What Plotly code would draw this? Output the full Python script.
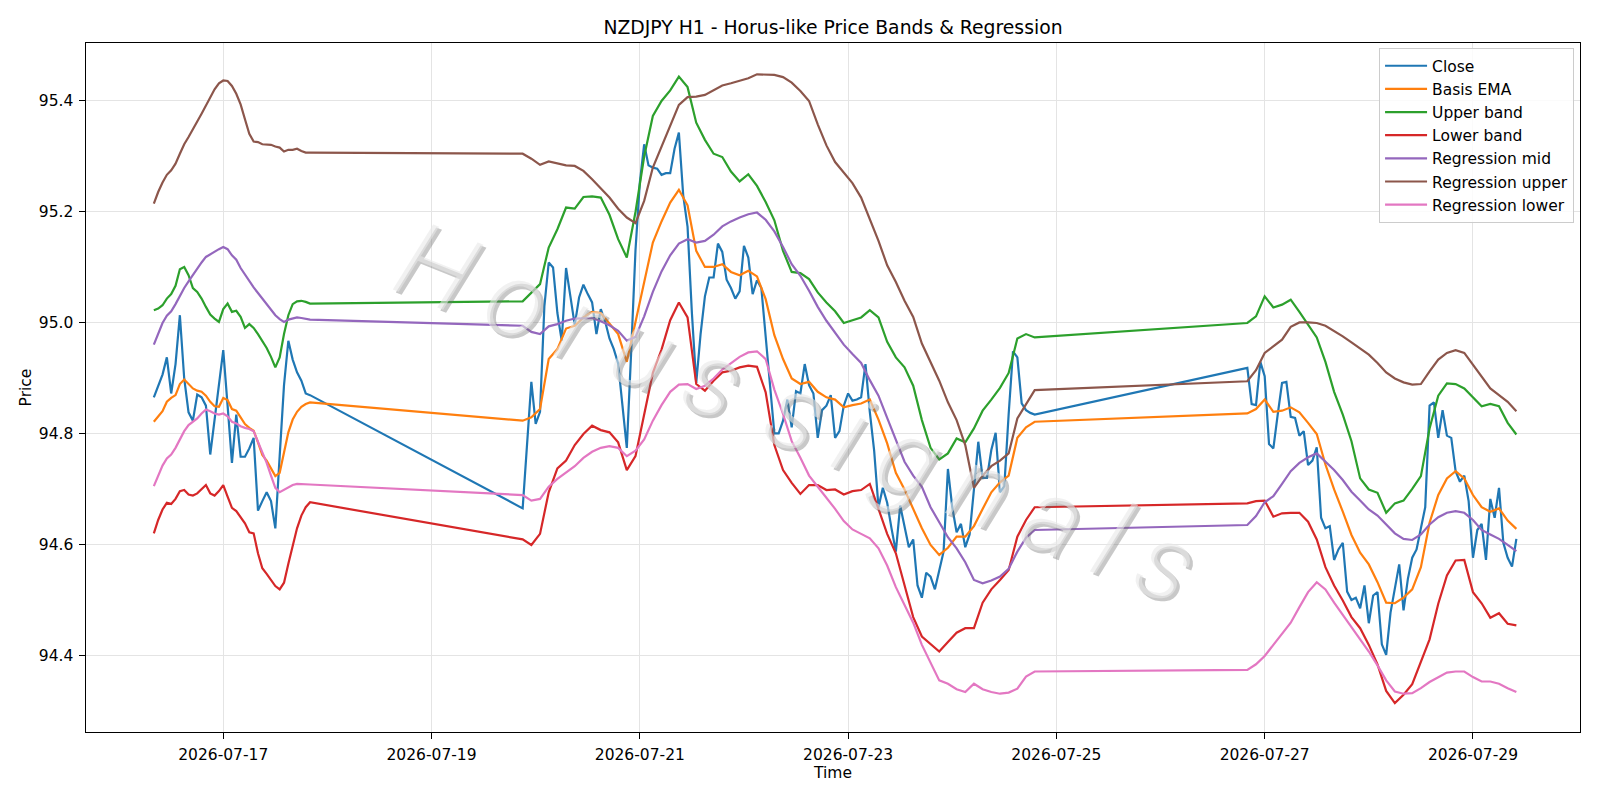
import pandas as pd
import plotly.graph_objects as go

# ---------------- time index (hourly, weekend gaps) ----------------
seg1 = pd.date_range("2026-07-16 08:00", "2026-07-17 20:00", freq="h")
seg2 = pd.date_range("2026-07-19 21:00", "2026-07-24 19:00", freq="h")
seg3 = pd.date_range("2026-07-26 20:00", "2026-07-29 10:00", freq="h")
close_time = seg1.append(seg2).append(seg3)
band_time = seg1.append(seg2[::2]).append(seg3[::2])

# ---------------- Close ----------------
close_1 = [94.866, 94.885, 94.907, 94.938, 94.873, 94.926, 95.014, 94.900, 94.839, 94.824,
           94.871, 94.866, 94.851, 94.763, 94.828, 94.890, 94.951, 94.851, 94.748, 94.835,
           94.759, 94.759, 94.774, 94.793, 94.662, 94.679, 94.695, 94.679, 94.630, 94.760,
           94.888, 94.968, 94.934, 94.911, 94.896, 94.873, 94.870]
close_2 = [94.666, 94.790, 94.894, 94.818, 94.840, 95.030, 95.109, 95.100, 95.018, 94.968,
           95.099, 95.048, 94.996, 95.046, 95.069, 95.052, 95.037, 94.980, 95.025, 95.003,
           94.972, 94.953, 94.927, 94.851, 94.775, 94.947, 95.131, 95.253, 95.322, 95.284,
           95.280, 95.278, 95.267, 95.270, 95.270, 95.314, 95.343, 95.230, 95.173, 95.018,
           94.892, 94.980, 95.048, 95.082, 95.082, 95.143, 95.128, 95.078, 95.063, 95.044,
           95.057, 95.139, 95.118, 95.052, 95.077, 95.063, 94.972, 94.881, 94.801, 94.801,
           94.824, 94.862, 94.812, 94.877, 94.873, 94.926, 94.888, 94.873, 94.793, 94.843,
           94.851, 94.870, 94.793, 94.805, 94.851, 94.873, 94.860, 94.862, 94.866, 94.926,
           94.840, 94.770, 94.668, 94.703, 94.676, 94.630, 94.588, 94.671, 94.630, 94.596,
           94.610, 94.527, 94.505, 94.550, 94.543, 94.520, 94.554, 94.588, 94.737, 94.668,
           94.623, 94.638, 94.596, 94.619, 94.700, 94.786, 94.721, 94.721, 94.771, 94.802,
           94.695, 94.706, 94.836, 94.949, 94.938, 94.855, 94.843, 94.838, 94.835]
close_3 = [94.919, 94.854, 94.852, 94.930, 94.904, 94.782, 94.774, 94.835, 94.892, 94.894,
           94.831, 94.829, 94.797, 94.805, 94.744, 94.752, 94.776, 94.649, 94.630, 94.634,
           94.573, 94.592, 94.604, 94.516, 94.501, 94.505, 94.486, 94.527, 94.459, 94.509,
           94.515, 94.421, 94.402, 94.478, 94.520, 94.565, 94.482, 94.539, 94.577, 94.592,
           94.630, 94.668, 94.851, 94.857, 94.793, 94.843, 94.797, 94.793, 94.733, 94.714,
           94.725, 94.679, 94.577, 94.627, 94.638, 94.573, 94.683, 94.649, 94.703, 94.604,
           94.577, 94.561, 94.611]

# ---------------- Basis EMA ----------------
basis_1 = [94.822, 94.832, 94.841, 94.858, 94.865, 94.870, 94.890, 94.898, 94.890, 94.882,
           94.878, 94.876, 94.869, 94.858, 94.850, 94.849, 94.865, 94.861, 94.845, 94.842,
           94.830, 94.818, 94.811, 94.806, 94.785, 94.762, 94.752, 94.737, 94.724, 94.730,
           94.765, 94.803, 94.826, 94.840, 94.849, 94.854, 94.857]
basis_2 = [94.824, 94.830, 94.845, 94.935, 94.953, 94.990, 94.995, 95.010, 95.020, 95.018,
           95.000, 94.980, 94.930, 95.000, 95.070, 95.145, 95.183, 95.217, 95.240, 95.212,
           95.130, 95.101, 95.101, 95.106, 95.092, 95.086, 95.094, 95.084, 95.043, 94.978,
           94.935, 94.900, 94.890, 94.894, 94.876, 94.866, 94.862, 94.848, 94.852, 94.855,
           94.862, 94.826, 94.783, 94.730, 94.700, 94.665, 94.630, 94.600, 94.582, 94.595,
           94.615, 94.615, 94.634, 94.665, 94.695, 94.713, 94.725, 94.793, 94.812, 94.822]
basis_3 = [94.837, 94.845, 94.862, 94.840, 94.842, 94.848, 94.839, 94.820, 94.800, 94.745,
           94.700, 94.660, 94.618, 94.586, 94.565, 94.533, 94.496, 94.495, 94.505, 94.520,
           94.560, 94.640, 94.690, 94.720, 94.733, 94.720, 94.690, 94.668, 94.660, 94.666,
           94.644, 94.629]

# ---------------- Upper band ----------------
upper_1 = [95.023, 95.026, 95.032, 95.044, 95.052, 95.067, 95.097, 95.101, 95.086, 95.063,
           95.056, 95.044, 95.029, 95.015, 95.008, 95.002, 95.025, 95.035, 95.020, 95.022,
           95.011, 94.991, 94.998, 94.991, 94.980, 94.968, 94.955, 94.939, 94.920, 94.938,
           94.980, 95.014, 95.034, 95.039, 95.040, 95.038, 95.035]
upper_2 = [95.039, 95.054, 95.070, 95.136, 95.169, 95.208, 95.206, 95.227, 95.228, 95.226,
           95.195, 95.151, 95.118, 95.200, 95.300, 95.373, 95.400, 95.419, 95.444, 95.425,
           95.361, 95.330, 95.305, 95.299, 95.273, 95.255, 95.268, 95.247, 95.218, 95.185,
           95.130, 95.092, 95.090, 95.079, 95.055, 95.037, 95.021, 95.000, 95.005, 95.010,
           95.023, 95.010, 94.966, 94.938, 94.920, 94.887, 94.825, 94.775, 94.754, 94.765,
           94.792, 94.785, 94.810, 94.842, 94.862, 94.883, 94.910, 94.972, 94.980, 94.974]
upper_3 = [95.000, 95.012, 95.048, 95.028, 95.033, 95.042, 95.020, 94.998, 94.974, 94.930,
           94.876, 94.835, 94.787, 94.720, 94.700, 94.694, 94.658, 94.675, 94.680, 94.701,
           94.724, 94.810, 94.869, 94.891, 94.890, 94.882, 94.866, 94.850, 94.854, 94.850,
           94.820, 94.799]

# ---------------- Lower band ----------------
lower_1 = [94.621, 94.645, 94.664, 94.676, 94.674, 94.683, 94.697, 94.699, 94.691, 94.689,
           94.693, 94.700, 94.708, 94.693, 94.689, 94.697, 94.708, 94.687, 94.667, 94.661,
           94.649, 94.639, 94.623, 94.621, 94.585, 94.558, 94.548, 94.537, 94.526, 94.520,
           94.532, 94.566, 94.600, 94.630, 94.653, 94.668, 94.677]
lower_2 = [94.610, 94.600, 94.620, 94.695, 94.738, 94.752, 94.780, 94.800, 94.815, 94.807,
           94.803, 94.785, 94.735, 94.760, 94.835, 94.910, 94.952, 95.005, 95.037, 95.010,
           94.890, 94.878, 94.896, 94.911, 94.914, 94.920, 94.923, 94.921, 94.875, 94.780,
           94.735, 94.712, 94.692, 94.708, 94.708, 94.699, 94.700, 94.691, 94.697, 94.699,
           94.710, 94.665, 94.620, 94.585, 94.526, 94.470, 94.435, 94.421, 94.408, 94.425,
           94.442, 94.450, 94.450, 94.496, 94.520, 94.537, 94.555, 94.615, 94.645, 94.668]
lower_3 = [94.675, 94.679, 94.680, 94.651, 94.657, 94.658, 94.658, 94.642, 94.610, 94.560,
           94.527, 94.500, 94.470, 94.450, 94.420, 94.385, 94.337, 94.315, 94.330, 94.349,
           94.390, 94.430, 94.494, 94.545, 94.572, 94.573, 94.515, 94.495, 94.469, 94.477,
           94.458, 94.455]

# ---------------- Regression mid ----------------
reg_mid_1 = [94.961, 94.979, 95.000, 95.013, 95.021, 95.034, 95.050, 95.063, 95.075, 95.087,
             95.099, 95.109, 95.119, 95.124, 95.128, 95.133, 95.137, 95.133, 95.122, 95.114,
             95.099, 95.087, 95.074, 95.064, 95.054, 95.044, 95.035, 95.025, 95.014, 95.007,
             95.002, 95.006, 95.008, 95.010, 95.009, 95.008, 95.006]
reg_mid_2 = [94.995, 94.984, 94.980, 94.994, 94.998, 95.004, 95.008, 95.009, 95.009, 95.003,
             94.996, 94.986, 94.968, 94.975, 95.012, 95.056, 95.093, 95.122, 95.143, 95.151,
             95.145, 95.148, 95.159, 95.174, 95.183, 95.190, 95.196, 95.199, 95.186, 95.165,
             95.137, 95.106, 95.085, 95.058, 95.029, 95.004, 94.982, 94.961, 94.944, 94.928,
             94.897, 94.869, 94.829, 94.790, 94.750, 94.725, 94.705, 94.668, 94.640, 94.614,
             94.594, 94.569, 94.537, 94.531, 94.536, 94.543, 94.557, 94.588, 94.613, 94.627]
reg_mid_3 = [94.636, 94.652, 94.677, 94.688, 94.710, 94.733, 94.748, 94.758, 94.765, 94.750,
             94.735, 94.717, 94.696, 94.680, 94.664, 94.653, 94.636, 94.621, 94.611, 94.609,
             94.619, 94.637, 94.650, 94.658, 94.661, 94.658, 94.645, 94.627, 94.619, 94.611,
             94.600, 94.589]

# ---------------- Regression upper ----------------
reg_up_1 = [95.215, 95.236, 95.253, 95.267, 95.275, 95.287, 95.305, 95.322, 95.335, 95.350,
            95.363, 95.377, 95.392, 95.405, 95.421, 95.432, 95.437, 95.436, 95.427, 95.413,
            95.394, 95.367, 95.341, 95.327, 95.326, 95.322, 95.322, 95.321, 95.318, 95.316,
            95.309, 95.312, 95.312, 95.314, 95.310, 95.307, 95.307]
reg_up_2 = [95.305, 95.296, 95.285, 95.291, 95.288, 95.284, 95.283, 95.274, 95.259, 95.242,
            95.226, 95.206, 95.190, 95.180, 95.220, 95.280, 95.317, 95.356, 95.393, 95.407,
            95.408, 95.411, 95.420, 95.428, 95.432, 95.436, 95.441, 95.448, 95.448, 95.447,
            95.443, 95.433, 95.418, 95.400, 95.358, 95.320, 95.290, 95.270, 95.252, 95.226,
            95.186, 95.148, 95.104, 95.074, 95.040, 95.011, 94.963, 94.930, 94.896, 94.857,
            94.825, 94.780, 94.703, 94.725, 94.742, 94.752, 94.765, 94.828, 94.854, 94.879]
reg_up_3 = [94.895, 94.915, 94.946, 94.958, 94.970, 94.993, 95.001, 95.001, 95.000, 94.995,
            94.986, 94.976, 94.965, 94.954, 94.943, 94.928, 94.911, 94.900, 94.893, 94.889,
            94.890, 94.913, 94.934, 94.946, 94.951, 94.946, 94.925, 94.902, 94.882, 94.870,
            94.858, 94.841]

# ---------------- Regression lower ----------------
reg_lo_1 = [94.706, 94.725, 94.743, 94.756, 94.763, 94.775, 94.790, 94.805, 94.816, 94.822,
            94.828, 94.837, 94.844, 94.841, 94.837, 94.835, 94.837, 94.832, 94.822, 94.819,
            94.814, 94.811, 94.809, 94.805, 94.786, 94.767, 94.748, 94.725, 94.703, 94.695,
            94.699, 94.704, 94.708, 94.710, 94.710, 94.709, 94.709]
reg_lo_2 = [94.690, 94.680, 94.683, 94.705, 94.719, 94.731, 94.742, 94.757, 94.768, 94.775,
            94.778, 94.775, 94.760, 94.770, 94.790, 94.824, 94.852, 94.876, 94.889, 94.890,
            94.881, 94.887, 94.900, 94.916, 94.928, 94.939, 94.947, 94.949, 94.935, 94.880,
            94.836, 94.787, 94.757, 94.725, 94.705, 94.686, 94.665, 94.643, 94.628, 94.620,
            94.612, 94.594, 94.563, 94.524, 94.493, 94.460, 94.420, 94.387, 94.356, 94.350,
            94.340, 94.335, 94.350, 94.340, 94.335, 94.332, 94.334, 94.341, 94.363, 94.372]
reg_lo_3 = [94.375, 94.385, 94.400, 94.420, 94.440, 94.460, 94.488, 94.515, 94.533, 94.520,
            94.496, 94.474, 94.452, 94.430, 94.408, 94.383, 94.356, 94.336, 94.332, 94.333,
            94.342, 94.353, 94.362, 94.370, 94.372, 94.372, 94.362, 94.354, 94.354, 94.350,
            94.342, 94.335]

x_tick_vals = ["2026-07-17", "2026-07-19", "2026-07-21", "2026-07-23",
               "2026-07-25", "2026-07-27", "2026-07-29"]
x_tick_text = x_tick_vals
y_tick_vals = [94.4, 94.6, 94.8, 95.0, 95.2, 95.4]
y_tick_text = ["94.4", "94.6", "94.8", "95.0", "95.2", "95.4"]

close = close_1 + close_2 + close_3
assert len(close) == len(close_time)

series = [
    ("Close", close_time, close, "#1f77b4"),
    ("Basis EMA", band_time, basis_1 + basis_2 + basis_3, "#ff7f0e"),
    ("Upper band", band_time, upper_1 + upper_2 + upper_3, "#2ca02c"),
    ("Lower band", band_time, lower_1 + lower_2 + lower_3, "#d62728"),
    ("Regression mid", band_time, reg_mid_1 + reg_mid_2 + reg_mid_3, "#9467bd"),
    ("Regression upper", band_time, reg_up_1 + reg_up_2 + reg_up_3, "#8c564b"),
    ("Regression lower", band_time, reg_lo_1 + reg_lo_2 + reg_lo_3, "#e377c2"),
]

FONT = "DejaVu Sans"
fig = go.Figure()
for name, t, vals, col in series:
    assert len(t) == len(vals), (name, len(t), len(vals))
    fig.add_trace(go.Scatter(
        x=list(t.strftime("%Y-%m-%d %H:%M")), y=vals, mode="lines", name=name,
        line=dict(color=col, width=2.2)))

# watermark (shadow + text), letters spread with hair spaces
HS = "\u200a"
wm_text = (HS * 2).join("Horus") + " " + HS + (HS * 2).join("signals")
wm = dict(text=wm_text, xref="paper", yref="paper", x=0.476, y=0.462,
          xanchor="center", yanchor="middle", showarrow=False, textangle=22)
fig.add_annotation(**wm, xshift=3, yshift=-3,
                   font=dict(family="Roboto", size=106, color="rgba(110,110,110,0.38)",
                             weight=300, style="italic"))
fig.add_annotation(**wm,
                   font=dict(family="Roboto", size=106, color="rgba(232,232,232,0.6)",
                             weight=300, style="italic"))

axis_common = dict(
    showline=True, linecolor="black", linewidth=1.2, mirror=True,
    ticks="outside", ticklen=5.5, tickwidth=1.1, tickcolor="black",
    showgrid=True, gridcolor="#e4e4e4", gridwidth=1, zeroline=False,
    tickfont=dict(family=FONT, size=15.5, color="black"),
    ticklabelstandoff=3,
)

fig.update_layout(
    width=1600, height=800,
    margin=dict(l=86, r=20, t=43, b=68),
    paper_bgcolor="white", plot_bgcolor="white",
    title=dict(text="NZDJPY H1 - Horus-like Price Bands & Regression",
               x=0.5, xref="paper", xanchor="center",
               y=1 - 27.5 / 800, yref="container", yanchor="middle",
               font=dict(family=FONT, size=18.8, color="black")),
    xaxis=dict(type="date", range=["2026-07-15 16:22", "2026-07-30 00:40"],
               tickvals=x_tick_vals, ticktext=x_tick_text,
               title=dict(text="Time", font=dict(family=FONT, size=15.5, color="black"),
                          standoff=2),
               **axis_common),
    yaxis=dict(range=[94.263, 95.5045], tickvals=y_tick_vals, ticktext=y_tick_text,
               title=dict(text="Price", font=dict(family=FONT, size=15.5, color="black"),
                          standoff=3),
               **axis_common),
    legend=dict(x=0.8655, y=0.9925, xanchor="left", yanchor="top",
                bgcolor="rgba(255,255,255,0.85)", bordercolor="#cccccc", borderwidth=1,
                font=dict(family=FONT, size=15.5, color="black"),
                itemwidth=42, tracegroupgap=0),
    showlegend=True,
)

fig.write_html("out.html")
